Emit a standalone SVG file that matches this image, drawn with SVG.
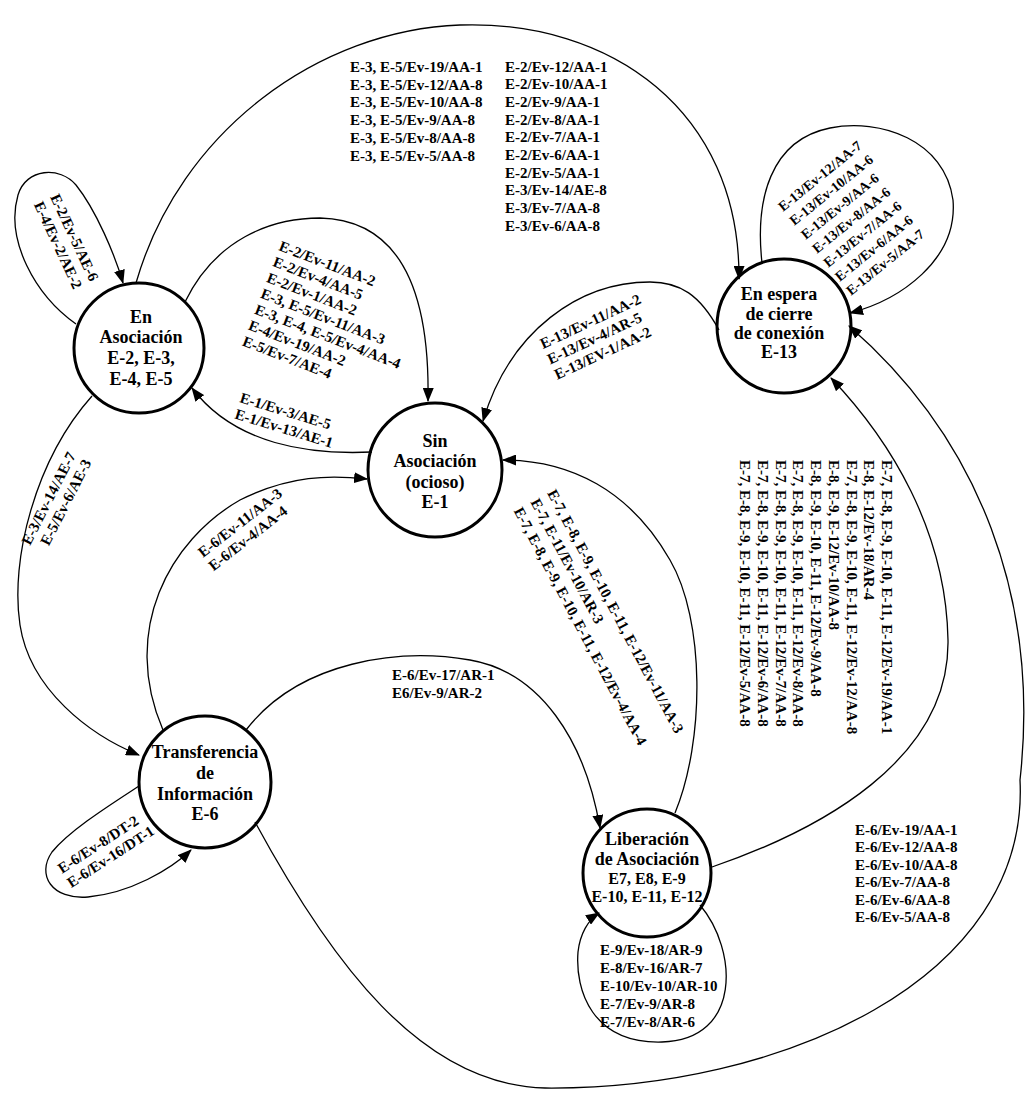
<svg xmlns="http://www.w3.org/2000/svg" width="1035" height="1097" viewBox="0 0 1035 1097">
<style>
.node circle{fill:#fff;stroke:#000;stroke-width:3}
.nl{font-family:"Liberation Serif","Times New Roman",serif;font-weight:bold;font-size:18px;text-anchor:middle;fill:#000}
.ns{font-size:16px}
.el{font-family:"Liberation Serif","Times New Roman",serif;font-weight:bold;font-size:15px;fill:#000}
.es{font-size:14px}
.edge{fill:none;stroke:#000;stroke-width:1.3;marker-end:url(#arr)}
</style>
<defs>
<marker id="arr" viewBox="0 0 14 11" refX="13" refY="5.5" markerWidth="14" markerHeight="11" markerUnits="userSpaceOnUse" orient="auto">
<path d="M0,0 L14,5.5 L0,11 z" fill="#000"/>
</marker>
</defs>
<rect width="1035" height="1097" fill="#fff"/>

<g id="n-asociacion" class="node">
<circle cx="139" cy="348" r="65"/>
<text class="nl" x="141" y="323">En</text>
<text class="nl" x="141" y="343">Asociación</text>
<text class="nl" x="141" y="364">E-2, E-3,</text>
<text class="nl" x="141" y="385">E-4, E-5</text>
</g>
<g id="n-sin" class="node">
<circle cx="435" cy="470" r="67"/>
<text class="nl" x="435" y="447">Sin</text>
<text class="nl" x="435" y="467">Asociación</text>
<text class="nl" x="435" y="488">(ocioso)</text>
<text class="nl" x="435" y="508">E-1</text>
</g>
<g id="n-transferencia" class="node">
<circle cx="205" cy="782" r="66"/>
<text class="nl" x="205" y="758">Transferencia</text>
<text class="nl" x="205" y="779">de</text>
<text class="nl" x="205" y="800">Información</text>
<text class="nl" x="205" y="820">E-6</text>
</g>
<g id="n-liberacion" class="node">
<circle cx="647" cy="873" r="64"/>
<text class="nl" x="647" y="845">Liberación</text>
<text class="nl" x="647" y="865">de Asociación</text>
<text class="nl ns" x="647" y="884">E7, E8, E-9</text>
<text class="nl ns" x="647" y="902">E-10, E-11, E-12</text>
</g>
<g id="n-espera" class="node">
<circle cx="784" cy="326" r="67"/>
<text class="nl" x="779" y="300">En espera</text>
<text class="nl" x="779" y="320">de cierre</text>
<text class="nl" x="779" y="339">de conexión</text>
<text class="nl" x="779" y="358">E-13</text>
</g>

<g id="connectors">
<path class="edge" d="M76,324 C35,295 5,240 18,195 C26,168 60,166 76,185 C96,210 115,255 123,283"/>
<path class="edge" d="M136,283 C180,130 320,30 460,25 C610,20 740,110 739,279"/>
<path class="edge" d="M185,302 C215,240 270,218 320,218 C400,220 430,290 428,401"/>
<path class="edge" d="M372,452 C310,455 235,445 192,388"/>
<path class="edge" d="M92,396 C35,460 10,560 20,625 C30,690 90,735 139,755"/>
<path class="edge" d="M163,730 C120,630 170,540 240,500 C290,475 330,475 367,479"/>
<path class="edge" d="M246,730 C300,660 400,648 470,660 C540,672 585,740 600,828"/>
<path class="edge" d="M139,786 C110,805 70,830 52,852 C36,875 52,900 88,897 C130,893 170,870 191,850"/>
<path class="edge" d="M255,822 C330,960 420,1085 545,1088 C780,1090 1030,980 1020,780 C1040,600 980,440 849,326"/>
<path class="edge" d="M675,813 C705,740 705,620 670,560 C630,490 570,460 503,460"/>
<path class="edge" d="M712,867 C820,830 950,760 948,640 C946,530 890,440 831,378"/>
<path class="edge" d="M762,263 C755,200 770,140 830,128 C880,118 945,140 953,200 C958,260 900,300 850,313"/>
<path class="edge" d="M719,330 C700,295 680,282 650,282 C580,282 510,330 483,421"/>
<path class="edge" d="M700,905 C738,950 742,1040 662,1042 C592,1044 575,990 578,952 C580,934 588,920 599,913"/>
</g>

<g id="labels">
<g transform="translate(50,197) rotate(65)">
<text class="el" x="0" y="0">E-2/Ev-5/AE-6</text>
<text class="el" x="0" y="18">E-4/Ev-2/AE-2</text>
</g>
<text class="el" x="350" y="72">E-3, E-5/Ev-19/AA-1</text>
<text class="el" x="350" y="89.7">E-3, E-5/Ev-12/AA-8</text>
<text class="el" x="350" y="107.4">E-3, E-5/Ev-10/AA-8</text>
<text class="el" x="350" y="125.1">E-3, E-5/Ev-9/AA-8</text>
<text class="el" x="350" y="142.8">E-3, E-5/Ev-8/AA-8</text>
<text class="el" x="350" y="160.5">E-3, E-5/Ev-5/AA-8</text>
<text class="el" x="505" y="71.5">E-2/Ev-12/AA-1</text>
<text class="el" x="505" y="89.2">E-2/Ev-10/AA-1</text>
<text class="el" x="505" y="106.9">E-2/Ev-9/AA-1</text>
<text class="el" x="505" y="124.6">E-2/Ev-8/AA-1</text>
<text class="el" x="505" y="142.3">E-2/Ev-7/AA-1</text>
<text class="el" x="505" y="160">E-2/Ev-6/AA-1</text>
<text class="el" x="505" y="177.7">E-2/Ev-5/AA-1</text>
<text class="el" x="505" y="195.4">E-3/Ev-14/AE-8</text>
<text class="el" x="505" y="213.1">E-3/Ev-7/AA-8</text>
<text class="el" x="505" y="230.8">E-3/Ev-6/AA-8</text>
<g transform="translate(278,250) rotate(21)">
<text class="el" x="0" y="0">E-2/Ev-11/AA-2</text>
<text class="el" x="0" y="17">E-2/Ev-4/AA-5</text>
<text class="el" x="0" y="34">E-2/Ev-1/AA-2</text>
<text class="el" x="0" y="51">E-3, E-5/Ev-11/AA-3</text>
<text class="el" x="0" y="68">E-3, E-4, E-5/Ev-4/AA-4</text>
<text class="el" x="0" y="85">E-4/Ev-19/AA-2</text>
<text class="el" x="0" y="102">E-5/Ev-7/AE-4</text>
</g>
<g transform="translate(239,402) rotate(17)">
<text class="el" x="0" y="0">E-1/Ev-3/AE-5</text>
<text class="el" x="0" y="17">E-1/Ev-13/AE-1</text>
</g>
<g transform="translate(30,546) rotate(-63)">
<text class="el" x="0" y="0">E-3/Ev-14/AE-7</text>
<text class="el" x="8" y="17">E-5/Ev-6/AE-3</text>
</g>
<g transform="translate(203,558) rotate(-38)">
<text class="el" x="0" y="0">E-6/Ev-11/AA-3</text>
<text class="el" x="0" y="17">E-6/Ev-4/AA-4</text>
</g>
<g transform="translate(783,212) rotate(-39)">
<text class="el es" x="0" y="0">E-13/Ev-12/AA-7</text>
<text class="el es" x="0" y="18">E-13/Ev-10/AA-6</text>
<text class="el es" x="0" y="36">E-13/Ev-9/AA-6</text>
<text class="el es" x="0" y="54">E-13/Ev-8/AA-6</text>
<text class="el es" x="0" y="72">E-13/Ev-7/AA-6</text>
<text class="el es" x="0" y="90">E-13/Ev-6/AA-6</text>
<text class="el es" x="0" y="108">E-13/Ev-5/AA-7</text>
</g>
<g transform="translate(543,349) rotate(-25)">
<text class="el" x="0" y="0">E-13/Ev-11/AA-2</text>
<text class="el" x="0" y="17">E-13/Ev-4/AR-5</text>
<text class="el" x="0" y="34">E-13/EV-1/AA-2</text>
</g>
<g transform="translate(547,493) rotate(62)">
<text class="el" x="0" y="0">E-7, E-8, E-9, E-10, E-11, E-12/Ev-11/AA-3</text>
<text class="el" x="0" y="19">E-7, E-11/Ev-10/AR-3</text>
<text class="el" x="0" y="38">E-7, E-8, E-9, E-10, E-11, E-12/Ev-4/AA-4</text>
</g>
<g transform="translate(882,460) rotate(90)">
<text class="el" x="0" y="0">E-7, E-8, E-9, E-10, E-11, E-12/Ev-19/AA-1</text>
<text class="el" x="0" y="17.75">E-8, E-12/Ev-18/AR-4</text>
<text class="el" x="0" y="35.5">E-7, E-8, E-9, E-10, E-11, E-12/Ev-12/AA-8</text>
<text class="el" x="0" y="53.25">E-8, E-9, E-12/Ev-10/AA-8</text>
<text class="el" x="0" y="71">E-8, E-9, E-10, E-11, E-12/Ev-9/AA-8</text>
<text class="el" x="0" y="88.75">E-7, E-8, E-9, E-10, E-11, E-12/Ev-8/AA-8</text>
<text class="el" x="0" y="106.5">E-7, E-8, E-9, E-10, E-11, E-12/Ev-7/AA-8</text>
<text class="el" x="0" y="124.25">E-7, E-8, E-9, E-10, E-11, E-12/Ev-6/AA-8</text>
<text class="el" x="0" y="142">E-7, E-8, E-9, E-10, E-11, E-12/Ev-5/AA-8</text>
</g>
<text class="el" x="392" y="680">E-6/Ev-17/AR-1</text>
<text class="el" x="392" y="698">E6/Ev-9/AR-2</text>
<g transform="translate(62,874) rotate(-33)">
<text class="el" x="0" y="0">E-6/Ev-8/DT-2</text>
<text class="el" x="0" y="17">E-6/Ev-16/DT-1</text>
</g>
<text class="el" x="600" y="955">E-9/Ev-18/AR-9</text>
<text class="el" x="600" y="973">E-8/Ev-16/AR-7</text>
<text class="el" x="600" y="991">E-10/Ev-10/AR-10</text>
<text class="el" x="600" y="1009">E-7/Ev-9/AR-8</text>
<text class="el" x="600" y="1027">E-7/Ev-8/AR-6</text>
<text class="el" x="855" y="835">E-6/Ev-19/AA-1</text>
<text class="el" x="855" y="852.4">E-6/Ev-12/AA-8</text>
<text class="el" x="855" y="869.8">E-6/Ev-10/AA-8</text>
<text class="el" x="855" y="887.2">E-6/Ev-7/AA-8</text>
<text class="el" x="855" y="904.6">E-6/Ev-6/AA-8</text>
<text class="el" x="855" y="922">E-6/Ev-5/AA-8</text>
</g>
</svg>
